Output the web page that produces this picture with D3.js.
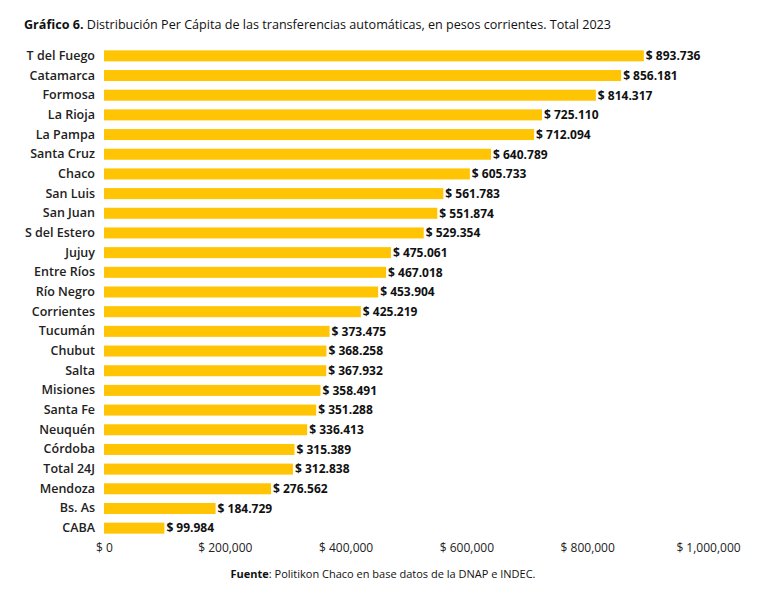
<!DOCTYPE html>
<html>
<head>
<meta charset="utf-8">
<script src="https://cdn.jsdelivr.net/npm/d3@7"></script>
<style>
  body { margin: 0; background: #fff; }
  svg { font-family: "Open Sans", sans-serif; }
</style>
</head>
<body>
<div id="chart"></div>
<script>
const provinces = ["T del Fuego", "Catamarca", "Formosa", "La Rioja", "La Pampa", "Santa Cruz", "Chaco",
  "San Luis", "San Juan", "S del Estero", "Jujuy", "Entre Ríos", "Río Negro", "Corrientes", "Tucumán",
  "Chubut", "Salta", "Misiones", "Santa Fe", "Neuquén", "Córdoba", "Total 24J", "Mendoza", "Bs. As", "CABA"];
const perCapita = [893736, 856181, 814317, 725110, 712094, 640789, 605733, 561783, 551874, 529354,
  475061, 467018, 453904, 425219, 373475, 368258, 367932, 358491, 351288, 336413, 315389, 312838,
  276562, 184729, 99984];
const xTicks = [0, 200000, 400000, 600000, 800000, 1000000];

const width = 767, height = 594;
const margin = { top: 46, right: 59, bottom: 56, left: 104 };

const svg = d3.select('#chart')
  .append('svg')
  .attr('width', width)
  .attr('height', height);

// title
const title = svg.append('text')
  .attr('x', 24)
  .attr('y', 29)
  .attr('font-size', 12.6)
  .attr('fill', '#111');
title.append('tspan').attr('font-weight', 700).text('Gráfico 6.');
title.append('tspan').text(' Distribución Per Cápita de las transferencias automáticas, en pesos corrientes. Total 2023');

const data = provinces.map((p, i) => ({ name: p, value: perCapita[i] }));

const xScale = d3.scaleLinear()
  .domain([0, 1000000])
  .range([margin.left, width - margin.right]);

const yScale = d3.scaleBand()
  .domain(provinces)
  .range([margin.top, height - margin.bottom])
  .paddingInner(0.44)
  .paddingOuter(0.22);

// bars
svg.selectAll('.bar')
  .data(data)
  .enter()
  .append('rect')
  .attr('class', 'bar')
  .attr('x', xScale(0))
  .attr('y', d => yScale(d.name))
  .attr('width', d => xScale(d.value) - xScale(0))
  .attr('height', yScale.bandwidth())
  .attr('fill', '#FFC504');

// value labels
const fmt = v => '$ ' + d3.format(',')(v).replace(/,/g, '.');
svg.selectAll('.val')
  .data(data)
  .enter()
  .append('text')
  .attr('class', 'val')
  .attr('x', d => xScale(d.value) + 2)
  .attr('y', d => yScale(d.name) + yScale.bandwidth() / 2)
  .attr('dy', '0.36em')
  .attr('font-size', 12)
  .attr('font-weight', 700)
  .attr('fill', '#111')
  .text(d => fmt(d.value));

// category axis
const yAxis = d3.axisLeft(yScale).tickSize(0).tickPadding(9);
svg.append('g')
  .attr('class', 'y-axis')
  .attr('transform', `translate(${margin.left}, 0)`)
  .call(yAxis)
  .call(g => g.select('.domain').remove())
  .call(g => g.selectAll('text')
    .attr('font-family', '"Open Sans", sans-serif')
    .attr('font-size', 12.5)
    .attr('font-weight', 600)
    .attr('fill', '#222'));

// value axis
const xAxis = d3.axisBottom(xScale)
  .tickValues(xTicks)
  .tickSize(0)
  .tickPadding(0)
  .tickFormat(v => '$ ' + d3.format(',')(v));
svg.append('g')
  .attr('class', 'x-axis')
  .attr('transform', `translate(0, ${height - margin.bottom + 5})`)
  .call(xAxis)
  .call(g => g.select('.domain').remove())
  .call(g => g.selectAll('text')
    .attr('font-family', '"Open Sans", sans-serif')
    .attr('font-size', 12)
    .attr('fill', '#222'));

// source note
const note = svg.append('text')
  .attr('x', 383)
  .attr('y', 578)
  .attr('text-anchor', 'middle')
  .attr('font-size', 11)
  .attr('fill', '#111');
note.append('tspan').attr('font-weight', 700).text('Fuente');
note.append('tspan').text(': Politikon Chaco en base datos de la DNAP e INDEC.');
</script>
</body>
</html>
